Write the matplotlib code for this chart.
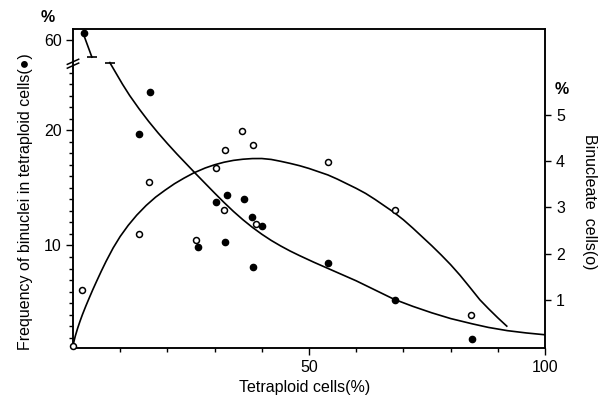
import numpy as np
import matplotlib
matplotlib.use('Agg')
import matplotlib.pyplot as plt
from matplotlib.ticker import FixedLocator, NullFormatter

plt.rcParams['font.family'] = ['Liberation Sans', 'DejaVu Sans']

# filled dots: frequency of binuclei in tetraploid cells (left axis)
tetra_filled = [2.4, 14.0, 16.3, 26.4, 30.3, 32.3, 32.7, 36.2, 37.9, 38.1, 40.1, 54.0, 68.3, 84.6]
binuclei_freq = [63.4, 19.7, 23.3, 9.9, 13.8, 10.3, 14.4, 14.0, 12.45, 8.1, 11.7, 8.45, 5.3, 1.85]

# open circles: binucleate cells (right axis)
tetra_open = [0.1, 2.0, 13.9, 16.0, 26.1, 30.2, 32.0, 32.2, 35.9, 38.2, 38.8, 54.0, 68.2, 84.3]
binucleate = [0.0, 1.22, 2.42, 3.54, 2.29, 3.85, 2.94, 4.23, 4.65, 4.34, 2.64, 3.97, 2.94, 0.67]

# fitted curve for binuclei frequency, part above the axis break
curve1_top_x = [2.4, 4.0]
curve1_top_y = [61.6, 51.9]
# ... and part below the break
curve1_x = [7.8, 9, 10.5, 12, 14, 16, 18, 20, 22, 24, 26, 28, 30, 32, 34, 36, 38, 40, 42, 44, 46, 48,
            51, 54, 57, 60, 64, 68, 72, 76, 80, 84.6, 88, 92, 96, 100]
curve1_y = [25.9, 25.06, 24.01, 23.04, 21.88, 20.8, 19.8, 18.86, 17.96, 17.1, 16.24, 15.4, 14.56, 13.74,
            12.96, 12.24, 11.58, 10.98, 10.44, 9.96, 9.52, 9.12, 8.55, 8.01, 7.47, 6.93, 6.13, 5.33,
            4.71, 4.15, 3.65, 3.19, 2.88, 2.6, 2.4, 2.24]

# fitted curve for binucleate cells
curve2_x = [0, 0.25, 0.5, 1, 1.5, 2, 2.7, 3.4, 4.2, 5, 6, 7, 8.5, 10, 11.7, 13.5, 15.5, 17.5, 19.5, 21.5,
            23.5, 25.6, 28, 30, 32, 34, 36, 38, 40, 42, 44, 46, 48, 50, 52, 54, 56, 58, 60, 62, 64, 66,
            68, 70, 72, 74, 76, 78, 80, 82, 84, 86.2, 88, 90, 91.9]
curve2_y = [0.0, 0.12, 0.22, 0.39, 0.54, 0.68, 0.86, 1.03, 1.22, 1.4, 1.62, 1.83, 2.12, 2.37, 2.61, 2.83,
            3.04, 3.22, 3.37, 3.51, 3.63, 3.745, 3.85, 3.92, 3.975, 4.015, 4.04, 4.054, 4.055, 4.035,
            3.995, 3.95, 3.9, 3.84, 3.77, 3.7, 3.61, 3.51, 3.41, 3.3, 3.17, 3.03, 2.89, 2.73, 2.55,
            2.36, 2.17, 1.97, 1.76, 1.53, 1.28, 1.0, 0.81, 0.61, 0.43]


# left axis is broken between 26 and 50
def fwd(v):
    v = np.asarray(v, dtype=float)
    return np.where(v <= 26, v, np.where(v <= 50, 26 + (v - 26) * 0.001, 26.024 + (v - 50) * 0.1846))


def inv(t):
    t = np.asarray(t, dtype=float)
    return np.where(t <= 26, t, np.where(t <= 26.024, 26 + (t - 26) / 0.001, 50 + (t - 26.024) / 0.1846))


fig = plt.figure(figsize=(6.03, 4.08), dpi=100)
ax = fig.add_axes([73 / 603, 1 - 348 / 408, 472 / 603, 318.7 / 408])
ax.set_yscale('function', functions=(fwd, inv))
ax.set_xlim(0, 100)
ax.set_ylim(1.09, 65)

lw = 1.2
ax.plot(curve1_top_x, curve1_top_y, color='k', lw=lw, marker='_', ms=7, mew=1.2, markevery=[1])
ax.plot(curve1_x, curve1_y, color='k', lw=lw, marker='_', ms=7, mew=1.2, markevery=[0])
ax.plot(tetra_filled, binuclei_freq, 'o', color='k', ms=4.5, clip_on=False, zorder=3)

ax2 = ax.twinx()
ax2.set_ylim(-0.043, 6.85)
ax2.plot(curve2_x, curve2_y, color='k', lw=lw, clip_on=False)
ax2.plot(tetra_open, binucleate, 'o', mfc='white', mec='k', mew=1.1, ms=4.3, clip_on=False, zorder=3)

for a in (ax, ax2):
    for s in a.spines.values():
        s.set_linewidth(1.1)

ax.set_xticks([50, 100])
ax.xaxis.set_minor_locator(FixedLocator([10, 20, 30, 40, 60, 70, 80, 90]))
ax.set_yticks([10, 20, 60])
ax.set_yticklabels(['10', '20', '60'])
ax.yaxis.set_minor_locator(FixedLocator([v for v in range(2, 26) if v not in (10, 20)]))
ax.yaxis.set_minor_formatter(NullFormatter())
ax.tick_params(axis='both', which='major', length=5, width=1, labelsize=11.5)
ax.tick_params(axis='both', which='minor', length=3, width=1)
ax.tick_params(axis='y', pad=3)
ax.tick_params(axis='x', pad=4)

ax2.set_yticks([1, 2, 3, 4, 5])
ax2.tick_params(axis='y', length=4, width=1, labelsize=11.5, pad=4)

# axis break marks on the left spine
for yb in (0.898, 0.886):
    ax.plot([-0.012, 0.012], [yb - 0.008, yb + 0.008], color='k', lw=1.1,
            transform=ax.transAxes, clip_on=False)

ax.set_xlabel('Tetraploid cells(%)', fontsize=11.5)
ax.xaxis.set_label_coords(0.49, -0.1)
ax.set_ylabel('Frequency of binuclei in tetraploid cells(●)', fontsize=11.5)
ax.yaxis.set_label_coords(-0.085, 0.46)
fig.text(590 / 603, 1 - 202 / 408, 'Binucleate  cells(o)', rotation=-90,
         ha='center', va='center', fontsize=11.5)
fig.text(48 / 603, 1 - 18 / 408, '%', ha='center', va='center', fontsize=11.5, fontweight='bold')
fig.text(562 / 603, 1 - 90 / 408, '%', ha='center', va='center', fontsize=11.5, fontweight='bold')

fig.savefig('out.png', dpi=100)
